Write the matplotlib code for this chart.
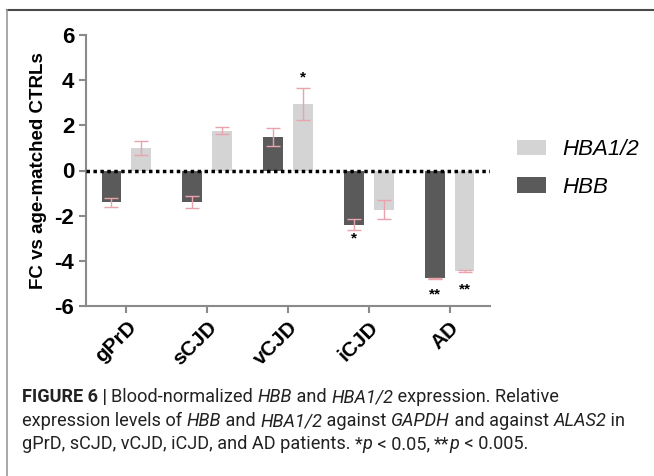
import numpy as np
import matplotlib
matplotlib.use("Agg")
import matplotlib.pyplot as plt
from matplotlib.patches import Patch
from matplotlib.lines import Line2D

groups = ["gPrD", "sCJD", "vCJD", "iCJD", "AD"]
hbb = [-1.4, -1.4, 1.5, -2.4, -4.78]
hbb_err = [0.2, 0.25, 0.4, 0.25, 0.04]
hba = [1.0, 1.77, 2.95, -1.73, -4.45]
hba_err = [0.32, 0.15, 0.7, 0.42, 0.04]
# significance marks: (group index, series, y, label)
stars = [(2, "hba", 4.1, "*"), (3, "hbb", -3.0, "*"),
         (4, "hbb", -5.5, "**"), (4, "hba", -5.27, "**")]

dark = "#5a5a5a"
light = "#d4d4d4"
errc = "#e9a3ad"
spine_c = "#8a8a8a"
arial = ["Liberation Sans", "DejaVu Sans"]

fig = plt.figure(figsize=(6.54, 4.76), dpi=100)
ax = fig.add_axes([86/654, 1-306/476, 404/654, 271/476])

x = np.arange(len(groups))
off = 0.185
w = 0.245
ax.bar(x - off, hbb, w, color=dark, zorder=2)
ax.bar(x + off, hba, w, color=light, zorder=2)
ax.errorbar(x - off, hbb, yerr=hbb_err, fmt="none", ecolor=errc, elinewidth=1, capsize=5, capthick=1, zorder=3)
ax.errorbar(x + off, hba, yerr=hba_err, fmt="none", ecolor=errc, elinewidth=1, capsize=5, capthick=1, zorder=3)
for i, s, yv, lab in stars:
    xp = i - off if s == "hbb" else i + off
    ax.text(xp, yv, lab, ha="center", va="center", fontsize=11, fontweight="bold", family=arial)

ax.axhline(0, color="black", lw=2.5, ls=(0, (1, 1)), zorder=4)

ax.set_xlim(-0.5, 4.5)
ax.set_ylim(-6, 6)
ax.set_yticks([-6, -4, -2, 0, 2, 4, 6])
ax.set_yticklabels(["-6", "-4", "-2", "0", "2", "4", "6"], fontsize=16, fontweight="bold", family=arial)
ax.set_xticks(x)
ax.set_xticklabels(groups, rotation=45, ha="right", rotation_mode="anchor", fontsize=15,
                   fontweight="bold", family=arial)
ax.set_ylabel("FC vs age-matched CTRLs", fontsize=13.5, fontweight="bold", labelpad=5, family=arial)
for sp in ["top", "right"]:
    ax.spines[sp].set_visible(False)
for sp in ["left", "bottom"]:
    ax.spines[sp].set_color(spine_c)
    ax.spines[sp].set_linewidth(1.5)
ax.tick_params(colors=spine_c, width=1.5, length=5, labelcolor="black")

handles = [Patch(facecolor=light), Patch(facecolor=dark)]
fig.legend(handles, ["HBA1/2", "HBB"], loc="upper left", bbox_to_anchor=(517/654, 1-139/476),
           frameon=False, prop={"style": "italic", "size": 16, "family": arial}, handlelength=1.3,
           handleheight=0.68, labelspacing=0.75, handletextpad=0.72, borderpad=0, borderaxespad=0)

# frame lines
fig.add_artist(Line2D([7/654, 1], [1-10/476, 1-10/476], color="#4a4a4a", lw=1.5))
fig.add_artist(Line2D([7/654, 7/654], [0, 1-10/476], color="#9a9a9a", lw=1.2))

# caption with mixed styles
fig.canvas.draw()
r = fig.canvas.get_renderer()
fam = ["Roboto", "DejaVu Sans"]
lines = [
    [("FIGURE 6 | ", "bold"), ("Blood-normalized ", ""), ("HBB", "it"), (" and ", ""), ("HBA1/2", "it"),
     (" expression. Relative", "")],
    [("expression levels of ", ""), ("HBB", "it"), (" and ", ""), ("HBA1/2", "it"), (" against ", ""),
     ("GAPDH", "it"), (" and against ", ""), ("ALAS2", "it"), (" in", "")],
    [("gPrD, sCJD, vCJD, iCJD, and AD patients. ", ""), ("*", ""), ("p", "it"), (" < 0.05, ", ""),
     ("**", ""), ("p", "it"), (" < 0.005.", "")],
]


def draw_line(runs, yp, fs, draw=True):
    xp = 22
    made = []
    for s, st in runs:
        t = fig.text(xp/654, 1-yp/476, s, fontsize=fs, family=fam,
                     fontweight="bold" if st == "bold" else "normal",
                     style="italic" if st == "it" else "normal", color="#222222", va="center")
        xp += t.get_window_extent(r).width
        made.append(t)
    if not draw:
        for t in made:
            t.remove()
    return xp


# fit the second (longest) line to the reference width
fs = 11.0
end = draw_line(lines[1], 0, fs, draw=False)
fs = fs * (620 - 22) / (end - 22)

ys = [397, 421, 444]
for runs, yp in zip(lines, ys):
    draw_line(runs, yp, fs)

fig.savefig("out.png", dpi=100)
